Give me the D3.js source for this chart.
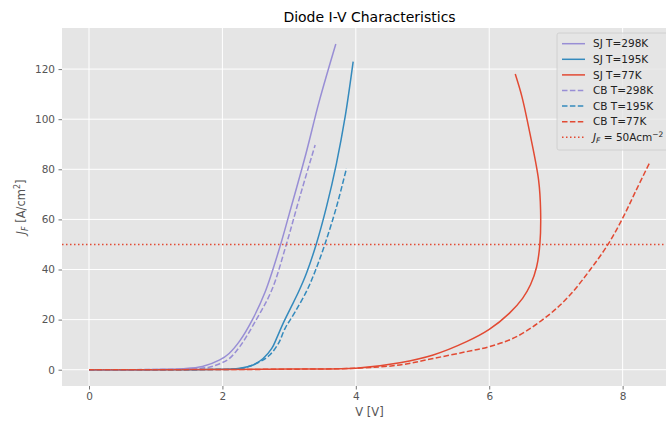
<!DOCTYPE html>
<html>
<head>
<meta charset="utf-8">
<script src="https://cdn.jsdelivr.net/npm/d3@7"></script>
<style>
  body { margin: 0; background: #fff; }
  svg { font-family: "DejaVu Sans", sans-serif; display: block; }
</style>
</head>
<body>
<script>
// measured I-V curves (voltage in V, current density in A/cm^2)
const sj298V = [0, 0.5, 1.0, 1.4, 1.7, 1.96, 2.1, 2.26, 2.45, 2.64, 2.85, 3.0, 3.25, 3.45, 3.7];
const sj298J = [0, 0, 0.1, 0.4, 1.3, 3.9, 6.5, 11.5, 20, 31, 48, 62, 86, 107, 130];

const sj195V = [0, 1.0, 1.8, 2.26, 2.46, 2.61, 2.74, 2.82, 2.91, 3.02, 3.14, 3.26, 3.41, 3.56, 3.71, 3.84, 3.96];
const sj195J = [0, 0, 0.1, 0.6, 1.9, 4.5, 8.5, 13, 18.5, 24.5, 31, 38.5, 50.4, 65, 82.4, 101, 123];

const sj77V = [0, 1, 2, 3, 4.0, 4.66, 5.16, 5.66, 6.0, 6.3, 6.5, 6.62, 6.71, 6.76, 6.77, 6.74, 6.61, 6.49, 6.39];
const sj77J = [0, 0, 0.1, 0.3, 0.6, 2.8, 5.9, 11.2, 16.1, 22.5, 28.5, 34, 41, 50.4, 63.7, 75.7, 94.3, 109, 118];

const cb298V = [0, 0.5, 1.0, 1.5, 1.8, 1.96, 2.1, 2.26, 2.51, 2.74, 2.96, 3.16, 3.39];
const cb298J = [0, 0, 0.1, 0.3, 1.0, 2.4, 4.4, 9.2, 20.1, 31.8, 50.2, 69, 89.7];

const cb195V = [0, 1.0, 1.8, 2.3, 2.56, 2.71, 2.84, 2.94, 3.09, 3.27, 3.4, 3.54, 3.71, 3.86];
const cb195J = [0, 0, 0.1, 0.6, 3.2, 5.9, 10.5, 16.5, 23.1, 31.8, 40, 50.4, 65, 80.4];

const cb77V = [0, 1, 2, 3, 4, 4.66, 5.16, 5.66, 6.0, 6.41, 6.89, 7.2, 7.51, 7.79, 8.01, 8.2, 8.4];
const cb77J = [0, 0, 0.1, 0.2, 0.6, 1.9, 4.5, 7.2, 9.2, 13.2, 21.8, 29.5, 39.8, 50.4, 61, 71.5, 82.4];

const seriesNames = ["SJ T=298K", "SJ T=195K", "SJ T=77K", "CB T=298K", "CB T=195K", "CB T=77K"];
const jfLimit = 50;
const xTicks = [0, 2, 4, 6, 8];
const yTicks = [0, 20, 40, 60, 80, 100, 120];

const width = 666, height = 425;
const margin = { left: 62, right: 677, top: 28, bottom: 386 };

const zip = (v, j) => v.map((d, i) => ({ v: d, j: j[i] }));
const series = [
  { name: seriesNames[0], data: zip(sj298V, sj298J), color: "#988ED5", dash: null },
  { name: seriesNames[1], data: zip(sj195V, sj195J), color: "#348ABD", dash: null },
  { name: seriesNames[2], data: zip(sj77V, sj77J), color: "#E24A33", dash: null },
  { name: seriesNames[3], data: zip(cb298V, cb298J), color: "#988ED5", dash: "5.5,2.4" },
  { name: seriesNames[4], data: zip(cb195V, cb195J), color: "#348ABD", dash: "5.5,2.4" },
  { name: seriesNames[5], data: zip(cb77V, cb77J), color: "#E24A33", dash: "5.5,2.4" }
];

const svg = d3.select("body").append("svg")
  .attr("width", width)
  .attr("height", height);

// scales
const x = d3.scaleLinear().domain([-0.405, 8.815]).range([margin.left, margin.right]);
const y = d3.scaleLinear().domain([-6.5, 136.4]).range([margin.bottom, margin.top]);

// plot background
svg.append("rect")
  .attr("x", margin.left).attr("y", margin.top)
  .attr("width", margin.right - margin.left)
  .attr("height", margin.bottom - margin.top)
  .style("fill", "#E5E5E5");

svg.append("clipPath").attr("id", "clip")
  .append("rect")
  .attr("x", margin.left).attr("y", margin.top)
  .attr("width", margin.right - margin.left)
  .attr("height", margin.bottom - margin.top);

// grid
const grid = svg.append("g").attr("class", "grid");
grid.selectAll(".gx").data(xTicks).enter()
  .append("line")
    .attr("x1", (d) => x(d)).attr("x2", (d) => x(d))
    .attr("y1", margin.top).attr("y2", margin.bottom)
    .style("stroke", "#fff").style("stroke-width", 1);
grid.selectAll(".gy").data(yTicks).enter()
  .append("line")
    .attr("y1", (d) => y(d)).attr("y2", (d) => y(d))
    .attr("x1", margin.left).attr("x2", margin.right)
    .style("stroke", "#fff").style("stroke-width", 1);

// axes
const xAxis = svg.append("g")
  .attr("transform", `translate(0, ${margin.bottom})`)
  .call(d3.axisBottom(x).tickValues(xTicks).tickSize(3.5).tickPadding(3.5));
const yAxis = svg.append("g")
  .attr("transform", `translate(${margin.left}, 0)`)
  .call(d3.axisLeft(y).tickValues(yTicks).tickSize(3.5).tickPadding(3.5));

[xAxis, yAxis].forEach((a) => {
  a.select(".domain").remove();
  a.selectAll("line").style("stroke", "#555").style("stroke-width", 0.8);
  a.selectAll("text")
    .style("fill", "#555")
    .style("font-size", "10.5px")
    .style("font-family", "DejaVu Sans");
});

// axis labels and title
svg.append("text")
  .attr("x", (margin.left + margin.right) / 2)
  .attr("y", 416)
  .attr("text-anchor", "middle")
  .style("fill", "#555").style("font-size", "11.5px")
  .text("V [V]");

const yl = svg.append("text")
  .attr("transform", `translate(25, ${(margin.top + margin.bottom) / 2}) rotate(-90)`)
  .attr("text-anchor", "middle")
  .style("fill", "#555").style("font-size", "11.5px");
yl.append("tspan").style("font-style", "italic").text("J");
yl.append("tspan").attr("dy", 3).style("font-size", "8px").style("font-style", "italic").text("F");
yl.append("tspan").attr("dy", -3).text(" [A/cm");
yl.append("tspan").attr("dy", -5).style("font-size", "8px").text("2");
yl.append("tspan").attr("dy", 5).text("]");

svg.append("text")
  .attr("x", (margin.left + margin.right) / 2)
  .attr("y", 22)
  .attr("text-anchor", "middle")
  .style("fill", "#000").style("font-size", "14px")
  .text("Diode I-V Characteristics");

// curves
const line = d3.line()
  .x((d) => x(d.v))
  .y((d) => y(d.j))
  .curve(d3.curveCatmullRom);

const chart = svg.append("g").attr("clip-path", "url(#clip)");
chart.selectAll(".curve")
  .data(series).enter()
  .append("path")
    .attr("class", "curve")
    .attr("d", (d) => line(d.data))
    .style("fill", "none")
    .style("stroke", (d) => d.color)
    .style("stroke-width", 1.5)
    .style("stroke-dasharray", (d) => d.dash);

chart.append("line")
  .attr("x1", margin.left).attr("x2", margin.right)
  .attr("y1", y(jfLimit)).attr("y2", y(jfLimit))
  .style("stroke", "#E24A33")
  .style("stroke-width", 1.5)
  .style("stroke-dasharray", "1.5,2.5");

// legend
const legend = svg.append("g").attr("class", "legend");
legend.append("rect")
  .attr("x", 557).attr("y", 33)
  .attr("width", 116).attr("height", 117)
  .attr("rx", 2)
  .style("fill", "#E5E5E5").style("fill-opacity", 0.8)
  .style("stroke", "#ccc").style("stroke-width", 0.8);

const items = series.concat([{ name: null, color: "#E24A33", dash: "1.5,2.5" }]);
const row = legend.selectAll(".item")
  .data(items).enter()
  .append("g")
    .attr("class", "item")
    .attr("transform", (d, i) => `translate(0, ${43.7 + i * 15.6})`);

row.append("line")
  .attr("x1", 562).attr("x2", 585)
  .style("stroke", (d) => d.color)
  .style("stroke-width", 1.5)
  .style("stroke-dasharray", (d) => d.dash);

row.filter((d) => d.name)
  .append("text")
    .attr("x", 593).attr("dy", "0.35em")
    .style("font-size", "10.5px").style("fill", "#222")
    .text((d) => d.name);

const jt = row.filter((d) => !d.name)
  .append("text")
    .attr("x", 593).attr("dy", "0.35em")
    .style("font-size", "10.5px").style("fill", "#222");
jt.append("tspan").style("font-style", "italic").text("J");
jt.append("tspan").attr("dy", 2.5).style("font-size", "7.5px").style("font-style", "italic").text("F");
jt.append("tspan").attr("dy", -2.5).text(" = 50Acm");
jt.append("tspan").attr("dy", -4).style("font-size", "7.5px").text("−2");
</script>
</body>
</html>
